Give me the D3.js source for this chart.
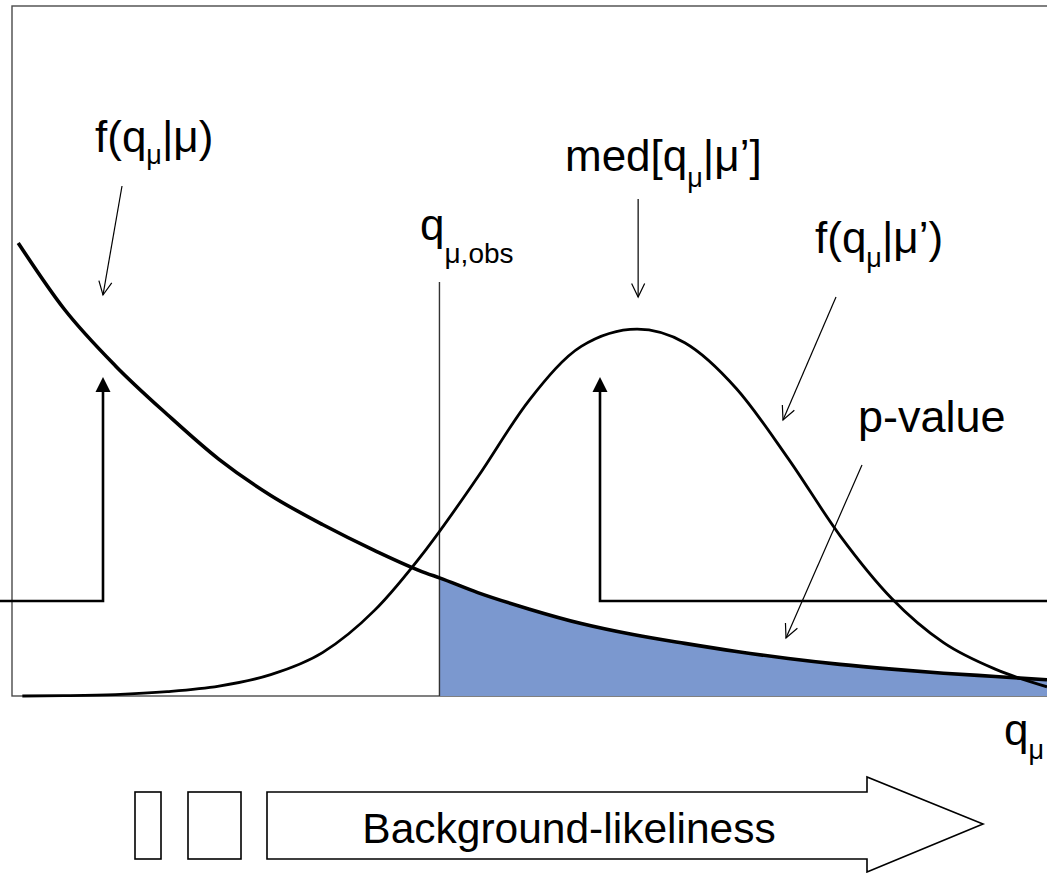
<!DOCTYPE html>
<html>
<head>
<meta charset="utf-8">
<script src="https://cdn.jsdelivr.net/npm/d3@7"></script>
<style>
  html, body { margin: 0; padding: 0; background: #fff; overflow: hidden; }
  text { font-family: "Liberation Sans", Arial, sans-serif; fill: #000; }
</style>
</head>
<body>
<svg id="chart" width="1047" height="873"></svg>
<script>
// Test statistic q (horizontal axis) and sampled densities
const nullQ       = [0.06, 0.5, 1.0, 1.5, 2.0, 2.5, 3.0, 3.5, 4.0, 4.13, 4.5, 5.0, 5.5, 6.0, 6.5, 7.0, 7.5, 8.0, 8.5, 9.0, 9.5, 10.0];
const nullDensity = [1.231, 1.053, 0.897, 0.765, 0.643, 0.545, 0.466, 0.396, 0.334, 0.321, 0.281, 0.236, 0.197, 0.167, 0.143, 0.121, 0.102, 0.086, 0.073, 0.062, 0.053, 0.044];

const altQ        = [0.1, 0.5, 1.0, 1.5, 2.0, 2.5, 3.0, 3.5, 4.0, 4.5, 5.0, 5.5, 6.04, 6.5, 7.0, 7.5, 8.0, 8.5, 9.0, 9.5, 10.0];
const altDensity  = [0.0, 0.001, 0.004, 0.012, 0.027, 0.058, 0.118, 0.232, 0.398, 0.595, 0.805, 0.950, 0.997, 0.960, 0.835, 0.645, 0.436, 0.265, 0.145, 0.073, 0.025];

const qObs = 4.13;        // observed value of the test statistic
const altMedian = 6.04;   // median of f(q|mu')

const nullPts = nullQ.map((q, i) => [q, nullDensity[i]]);
const altPts  = altQ.map((q, i) => [q, altDensity[i]]);
const tailPts = nullPts.filter(d => d[0] >= qObs);

const svg = d3.select("#chart");

const x = d3.scaleLinear().domain([0, 10]).range([12, 1047]);
const y = d3.scaleLinear().domain([0, 1]).range([696, 328]);

const curve = d3.curveMonotoneX;

// plot frame (extends past the right edge)
svg.append("rect")
  .attr("x", 12).attr("y", 6)
  .attr("width", 1100).attr("height", y(0) - 6)
  .attr("fill", "none").attr("stroke", "#4a4a4a").attr("stroke-width", 1.4);

// p-value region: tail of f(q|mu) above q_obs
svg.append("path")
  .datum(tailPts)
  .attr("d", d3.area().x(d => x(d[0])).y0(y(0)).y1(d => y(d[1])).curve(curve))
  .attr("fill", "#7b98cf");

// q_obs marker line
svg.append("line")
  .attr("x1", x(qObs)).attr("x2", x(qObs))
  .attr("y1", 282).attr("y2", y(0))
  .attr("stroke", "#333").attr("stroke-width", 1.4);

const line = d3.line().x(d => x(d[0])).y(d => y(d[1])).curve(curve);

svg.append("path").datum(altPts)
  .attr("d", line).attr("fill", "none")
  .attr("stroke", "#000").attr("stroke-width", 2.8);

svg.append("path").datum(nullPts)
  .attr("d", line).attr("fill", "none")
  .attr("stroke", "#000").attr("stroke-width", 3.6);

// bracket arrows with solid heads
function bracket(xStart, yLevel, xTurn, yTip) {
  svg.append("path")
    .attr("d", `M${xStart},${yLevel} H${xTurn} V${yTip + 12}`)
    .attr("fill", "none").attr("stroke", "#000").attr("stroke-width", 2.6);
  svg.append("path")
    .attr("d", `M${xTurn},${yTip} L${xTurn - 7.5},${yTip + 15} L${xTurn + 7.5},${yTip + 15} Z`)
    .attr("fill", "#000");
}
bracket(0, 601, 103, 377);
bracket(1060, 601, 600, 377);

// thin pointer arrows with open heads
function pointer(x1, y1, x2, y2) {
  const g = svg.append("g").attr("stroke", "#000").attr("stroke-width", 1.2).attr("fill", "none");
  g.append("line").attr("x1", x1).attr("y1", y1).attr("x2", x2).attr("y2", y2);
  const a = Math.atan2(y2 - y1, x2 - x1);
  const L = 15, s = 0.45;
  g.append("path").attr("d",
    `M${x2 - L * Math.cos(a - s)},${y2 - L * Math.sin(a - s)} L${x2},${y2} L${x2 - L * Math.cos(a + s)},${y2 - L * Math.sin(a + s)}`);
}
pointer(122, 186, 103, 295);
pointer(x(altMedian) + 1, 199, x(altMedian) + 1, 297);
pointer(836, 297, 783, 420);
pointer(862, 465, 786, 638);

// labels with subscripts
function label(xp, yp, parts, size) {
  const t = svg.append("text").attr("x", xp).attr("y", yp).attr("font-size", size);
  parts.forEach(p => {
    const ts = t.append("tspan").text(p.t);
    if (p.sub) ts.attr("font-size", p.size || 27).attr("dy", p.sub);
    if (p.up) ts.attr("dy", -p.up);
  });
}
label(95, 152, [{t: "f(q"}, {t: "\u03BC", sub: 12}, {t: "|\u03BC)", up: 12}], 44);
label(420, 240, [{t: "q"}, {t: "\u03BC,obs", sub: 23, size: 28}], 44);
label(565, 171, [{t: "med[q"}, {t: "\u03BC", sub: 16}, {t: "|\u03BC\u2019]", up: 16}], 44);
label(815, 253, [{t: "f(q"}, {t: "\u03BC", sub: 14}, {t: "|\u03BC\u2019)", up: 14}], 44);
label(858, 432, [{t: "p-value"}], 45);
label(1004, 745, [{t: "q"}, {t: "\u03BC", sub: 14}], 44);

// "Background-likeliness" direction arrow and boxes
const bx = svg.append("g").attr("fill", "#fff").attr("stroke", "#000").attr("stroke-width", 1.6);
bx.append("rect").attr("x", 135).attr("y", 792).attr("width", 26).attr("height", 67);
bx.append("rect").attr("x", 188).attr("y", 792).attr("width", 53).attr("height", 67);
bx.append("path").attr("d", "M267,792 H867 V777 L983,824 L867,872 V859 H267 Z");
svg.append("text").attr("x", 569).attr("y", 843).attr("text-anchor", "middle")
  .attr("font-size", 42.5).text("Background-likeliness");
</script>
</body>
</html>
